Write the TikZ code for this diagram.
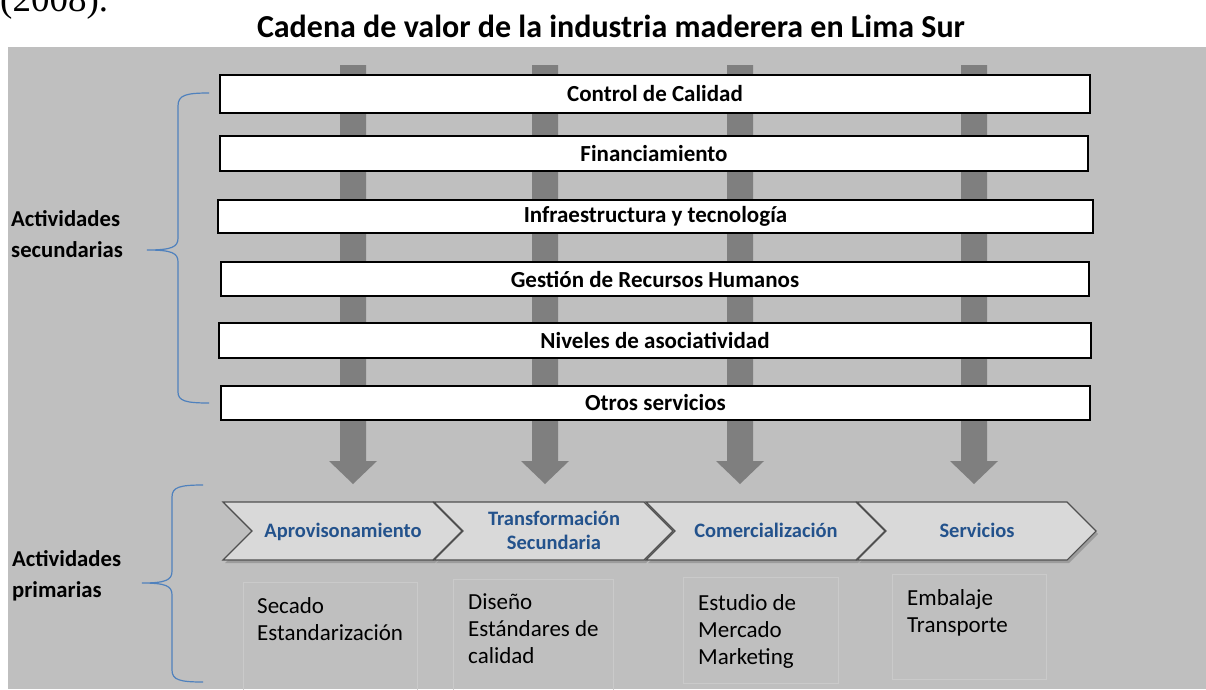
\documentclass[tikz,border=0pt]{standalone}
\usepackage{fontspec}
\setmainfont{Carlito}
\newfontfamily\serifx{Liberation Serif}
\definecolor{panel}{HTML}{BFBFBF}
\definecolor{barcol}{HTML}{7F7F7F}
\definecolor{bracecol}{HTML}{4F81BD}
\definecolor{chevtext}{HTML}{23528C}
\definecolor{chevfill}{HTML}{D9D9D9}
\definecolor{chevlight}{HTML}{EFEFEF}
\definecolor{chevedge}{HTML}{505050}
\definecolor{pboxedge}{HTML}{CACACA}
\tikzset{
  secbox/.style={draw=black, line width=1.5pt, fill=white, inner sep=0pt,
    font=\bfseries\fontsize{23}{26}\selectfont},
  brace/.style={draw=bracecol, line width=1.2pt},
  bararrow/.style={fill=barcol, draw=none},
  chevlabel/.style={text=chevtext, font=\bfseries\fontsize{20.5}{24}\selectfont, align=center, inner sep=0pt},
  ptext/.style={font=\fontsize{23}{27}\selectfont, align=left, inner sep=0pt},
  sidelabel/.style={font=\bfseries\fontsize{22.7}{31}\selectfont, align=left, inner sep=0pt},
  pbox/.style={draw=pboxedge, line width=0.7pt}
}
\begin{document}
\begin{tikzpicture}[x=1pt,y=-1pt]
\useasboundingbox (0,0) rectangle (1206,689);
\fill[white] (0,0) rectangle (1206,689);
% text cut off at the very top, as in the reference
\node[anchor=base west, inner sep=0pt, font=\serifx\fontsize{37}{37}\selectfont] (yr) at (0,11) {(2008).};
% title
\node[anchor=base, inner sep=0pt, font=\bfseries\fontsize{32}{36}\selectfont] (title) at (611,37) {Cadena de valor de la industria maderera en Lima Sur};
% panel
\fill[panel] (8,47) rectangle (1206,689);
% vertical bars with arrowheads
\foreach \c/\n in {353/a1,545/a2,740/a3,974/a4}{
  \fill[bararrow] (\c-13,65) -- (\c+13,65) -- (\c+13,461) -- (\c+24,461) -- (\c,484) -- (\c-24,461) -- (\c-13,461) -- cycle;
  \coordinate (\n) at (\c,484);
}
% secondary activity boxes
\node[secbox, minimum width=870pt, minimum height=38pt] (b1) at (655,94) {Control de Calidad};
\node[secbox, minimum width=868pt, minimum height=35pt] (b2) at (654,153.5) {Financiamiento};
\node[secbox, minimum width=875pt, minimum height=33pt] (b3) at (655.5,216.5) {Infraestructura y tecnología};
\node[secbox, minimum width=868pt, minimum height=34pt] (b4) at (655,279) {Gestión de Recursos Humanos};
\node[secbox, minimum width=872pt, minimum height=35pt] (b5) at (655,340.5) {Niveles de asociatividad};
\node[secbox, minimum width=869pt, minimum height=34pt] (b6) at (655.5,403) {Otros servicios};
% side labels
\node[sidelabel, anchor=north west] (sec) at (11,204.3) {\strut Actividades\\secundarias};
\node[sidelabel, anchor=north west] (prim) at (12,544.3) {\strut Actividades\\primarias};
% braces
\coordinate (u1) at (209,93); \coordinate (um) at (147,250); \coordinate (u2) at (209,403);
\draw[brace] (u1) .. controls (186,93) and (178,95) .. (178,106) -- (178,238)
  .. controls (178,247) and (172,250) .. (um)
  .. controls (172,250) and (178,253) .. (178,262) -- (178,392)
  .. controls (178,401) and (186,403) .. (u2);
\coordinate (l1) at (203,485); \coordinate (lm) at (142,583); \coordinate (l2) at (203,682);
\draw[brace] (l1) .. controls (180,485) and (172,487) .. (172,497) -- (172,571)
  .. controls (172,580) and (166,583) .. (lm)
  .. controls (166,583) and (172,586) .. (172,595) -- (172,670)
  .. controls (172,680) and (180,682) .. (l2);
% chevrons
\foreach \L/\n in {223/c1,434/c2,646/c3,857/c4}{
  \fill[black, opacity=0.18] (\L+2,505) -- (\L+212,505) -- (\L+241,534) -- (\L+212,563) -- (\L+2,563) -- (\L+31,534) -- cycle;
  \shade[top color=chevfill, middle color=chevlight, bottom color=chevfill]
    (\L,502) -- (\L+210,502) -- (\L+239,531) -- (\L+210,560) -- (\L,560) -- (\L+29,531) -- cycle;
  \draw[chevedge, line width=1.1pt, line join=miter]
    (\L,502) -- (\L+210,502) -- (\L+239,531) -- (\L+210,560) -- (\L,560) -- (\L+29,531) -- cycle;
  \coordinate (\n) at (\L+120,531);
}
\node[chevlabel, anchor=base] (t1) at (343,537) {Aprovisonamiento};
\node[chevlabel, anchor=north] (t2) at (554,508.2) {\strut Transformación\\Secundaria};
\node[chevlabel, anchor=base] (t3) at (766,537) {Comercialización};
\node[chevlabel, anchor=base] (t4) at (977,537) {Servicios};
% primary activity boxes
\draw[pbox] (243,582) rectangle (417,692);
\draw[pbox] (453,579) rectangle (613,692);
\draw[pbox] (683,577) rectangle (838,683);
\draw[pbox] (892,574) rectangle (1046,679);
\node[ptext, anchor=north west] (p1) at (257,594.1) {\strut Secado\\Estandarización};
\node[ptext, anchor=north west] (p2) at (468,590.1) {\strut Diseño\\Estándares de\\calidad};
\node[ptext, anchor=north west] (p3) at (698,591.1) {\strut Estudio de\\Mercado\\Marketing};
\node[ptext, anchor=north west] (p4) at (907,586.1) {\strut Embalaje\\Transporte};
\end{tikzpicture}
\end{document}
